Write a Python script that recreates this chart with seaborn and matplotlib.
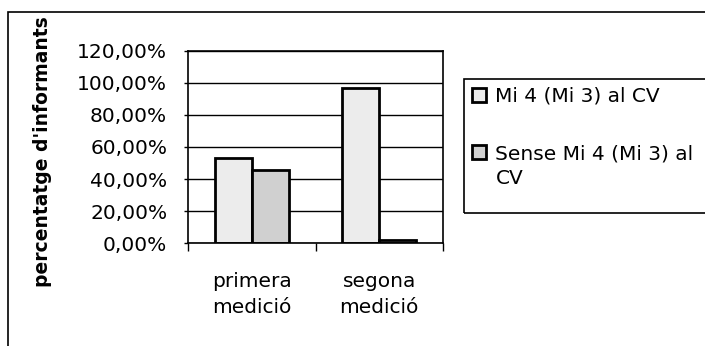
import matplotlib
matplotlib.use("Agg")
import matplotlib.pyplot as plt
from matplotlib.patches import Rectangle
from matplotlib.ticker import FuncFormatter, FixedLocator
import seaborn as sns
import pandas as pd

# Survey results: share of informants per measurement
mesures = ["primera\nmedició", "segona\nmedició"]
series = ["Mi 4 (Mi 3) al CV", "Sense Mi 4 (Mi 3) al CV"]
amb_mi4 = [53.2, 97.0]
sense_mi4 = [45.5, 2.0]
y_ticks = [0, 20, 40, 60, 80, 100, 120]

df = pd.DataFrame({
    "mesura": mesures * 2,
    "serie": [series[0]] * 2 + [series[1]] * 2,
    "valor": amb_mi4 + sense_mi4,
})

sns.set_style("white")
plt.rcParams["font.family"] = ["DejaVu Sans"]
plt.rcParams.update({"text.color": "black", "axes.labelcolor": "black",
                     "xtick.color": "black", "ytick.color": "black"})

FS = 14.5
fig = plt.figure(figsize=(7.05, 3.46), dpi=100)
ax = fig.add_axes([188 / 705, 1 - 243.3 / 346, 255 / 705, 192.6 / 346])

sns.barplot(
    data=df, x="mesura", y="valor", hue="serie", ax=ax,
    palette=["#ececec", "#d0d0d0"], width=0.58,
    edgecolor="black", linewidth=2, saturation=1,
)

ax.set_ylim(0, 120)
ax.set_xlim(-0.5, 1.5)
ax.yaxis.set_major_locator(FixedLocator(y_ticks))
ax.yaxis.set_major_formatter(FuncFormatter(lambda v, _: f"{v:.2f}".replace(".", ",") + "%"))
ax.grid(axis="y", color="black", linewidth=1)
ax.set_axisbelow(True)
for s in ax.spines.values():
    s.set_visible(True)
    s.set_color("black")
    s.set_linewidth(1.2)

ax.tick_params(axis="y", which="major", left=True, length=3, width=1,
               labelsize=FS, pad=12)
ax.tick_params(axis="x", which="major", bottom=False, labelsize=FS, pad=17)
ax.xaxis.set_minor_locator(FixedLocator([-0.5, 0.5, 1.5]))
ax.tick_params(axis="x", which="minor", bottom=True, length=6, width=1)
for lbl in ax.get_xticklabels():
    lbl.set_linespacing(1.5)

ax.set_xlabel("")
ax.set_ylabel("percentatge d'informants", fontsize=13.5, fontweight="bold")
ax.yaxis.set_label_coords(-0.533, 0.474)

# Legend entries (the second label wraps onto a separate line below)
handles, labels = ax.get_legend_handles_labels()
ax.get_legend().remove()
labels = [labels[0], labels[1].replace(" al CV", " al")]
fig.legend(
    handles, labels, loc="upper left",
    bbox_to_anchor=(472 / 705, 1 - 87 / 346),
    frameon=False, fontsize=FS, handlelength=0.7, handleheight=0.7,
    handletextpad=0.45, labelspacing=1.9, borderpad=0, borderaxespad=0,
)
fig.text(496 / 705, 1 - 178 / 346, "CV", fontsize=FS, va="center", ha="left")

# Legend frame
fig.add_artist(Rectangle((464 / 705, 1 - 213 / 346), 0.4, (213 - 79) / 346,
                         transform=fig.transFigure, fill=False,
                         edgecolor="black", linewidth=1.2))

# Outer chart frame
fig.add_artist(Rectangle((8 / 705, -0.1), 1.2, 1.1 - 12 / 346,
                         transform=fig.transFigure, fill=False,
                         edgecolor="black", linewidth=1.2))

fig.savefig("out.png", dpi=100)
